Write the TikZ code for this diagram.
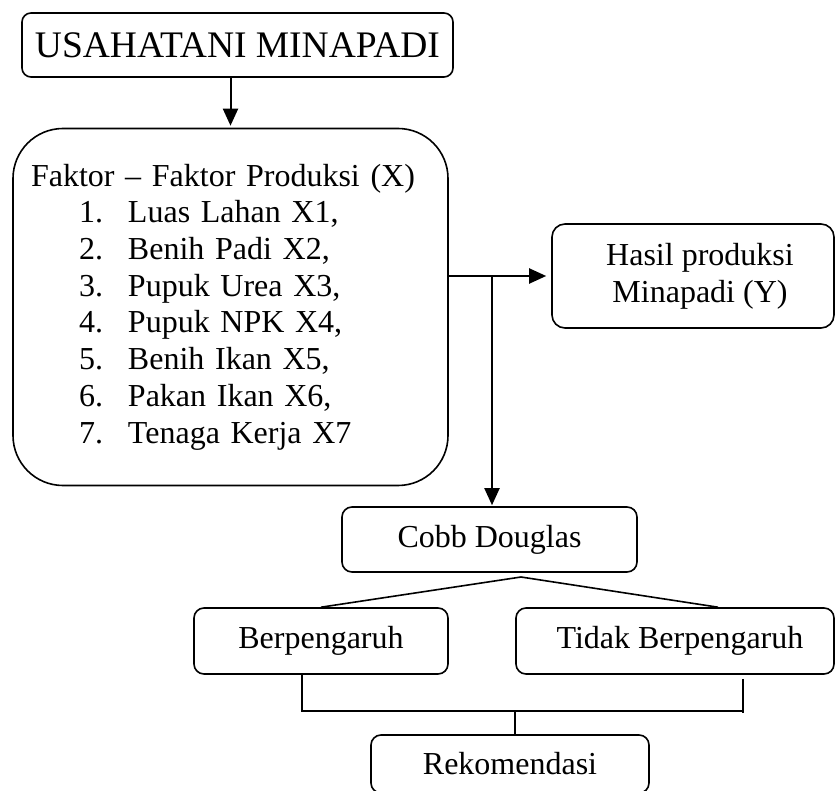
\documentclass[tikz,border=0pt]{standalone}
\usepackage{fontspec}
\setmainfont{Liberation Serif}
\usetikzlibrary{arrows.meta}

\tikzset{
  box/.style={draw, line width=1.6pt, rounded corners=#1, inner sep=0pt,
    font=\fontsize{32}{36.7}\selectfont},
  box/.default=10pt,
  arrowline/.style={line width=2pt, -{Triangle[length=17pt,width=15pt]}},
  plainline/.style={line width=1.6pt}
}

\begin{document}
\begin{tikzpicture}[x=1pt,y=-1pt]
\useasboundingbox (0,0) rectangle (835,791);

\node[box=9pt, minimum width=431pt, minimum height=64pt, font=\fontsize{37.5}{40}\selectfont] (usaha) at (237.5,45) {USAHATANI MINAPADI};
\node[box=50pt, minimum width=435pt, minimum height=357pt, align=left, text width=399pt] (faktor) at (230.5,307) {Faktor -- Faktor Produksi (X)\\
\hspace*{48pt}\makebox[49pt][l]{1.}Luas Lahan X1,\\
\hspace*{48pt}\makebox[49pt][l]{2.}Benih Padi X2,\\
\hspace*{48pt}\makebox[49pt][l]{3.}Pupuk Urea X3,\\
\hspace*{48pt}\makebox[49pt][l]{4.}Pupuk NPK X4,\\
\hspace*{48pt}\makebox[49pt][l]{5.}Benih Ikan X5,\\
\hspace*{48pt}\makebox[49pt][l]{6.}Pakan Ikan X6,\\
\hspace*{48pt}\makebox[49pt][l]{7.}Tenaga Kerja X7};
\node[box=13pt, minimum width=282pt, minimum height=104pt, align=center] (hasil) at (693,276) {\hspace*{14pt}Hasil produksi\\\hspace*{14pt}Minapadi (Y)};
\node[box, minimum width=295pt, minimum height=65pt] (cobb) at (489.5,539.5) {Cobb Douglas};
\node[box, minimum width=254pt, minimum height=66pt] (berp) at (321,641) {Berpengaruh};
\node[box, minimum width=318pt, minimum height=66pt] (tidak) at (675,641) {\hspace*{10pt}Tidak Berpengaruh};
\node[box, minimum width=278pt, minimum height=58pt] (rekom) at (510,764) {Rekomendasi};

% arrows
\draw[arrowline, shorten >=2pt] (usaha.south -| faktor.north) -- (faktor.north);
\draw[arrowline, shorten >=5pt] (faktor.east |- hasil.west) -- (hasil.west);
\coordinate (split) at (492,276);
\draw[arrowline, shorten >=1pt] (split) -- (split |- cobb.north);

% branches
\coordinate (apex) at (521,577);
\draw[plainline] (berp.north) -- (apex) -- ([xshift=43pt]tidak.north);

% join
\coordinate (joinL) at (302,711);
\coordinate (joinR) at (743,711);
\coordinate (joinM) at (515,711);
\draw[plainline] (joinL |- berp.south) -- (joinL) -- (joinR);
\draw[plainline] ([yshift=-4pt]joinR |- tidak.south) -- ([yshift=-2pt]joinR);
\draw[plainline] (joinM) -- (joinM |- rekom.north);
\end{tikzpicture}
\end{document}
